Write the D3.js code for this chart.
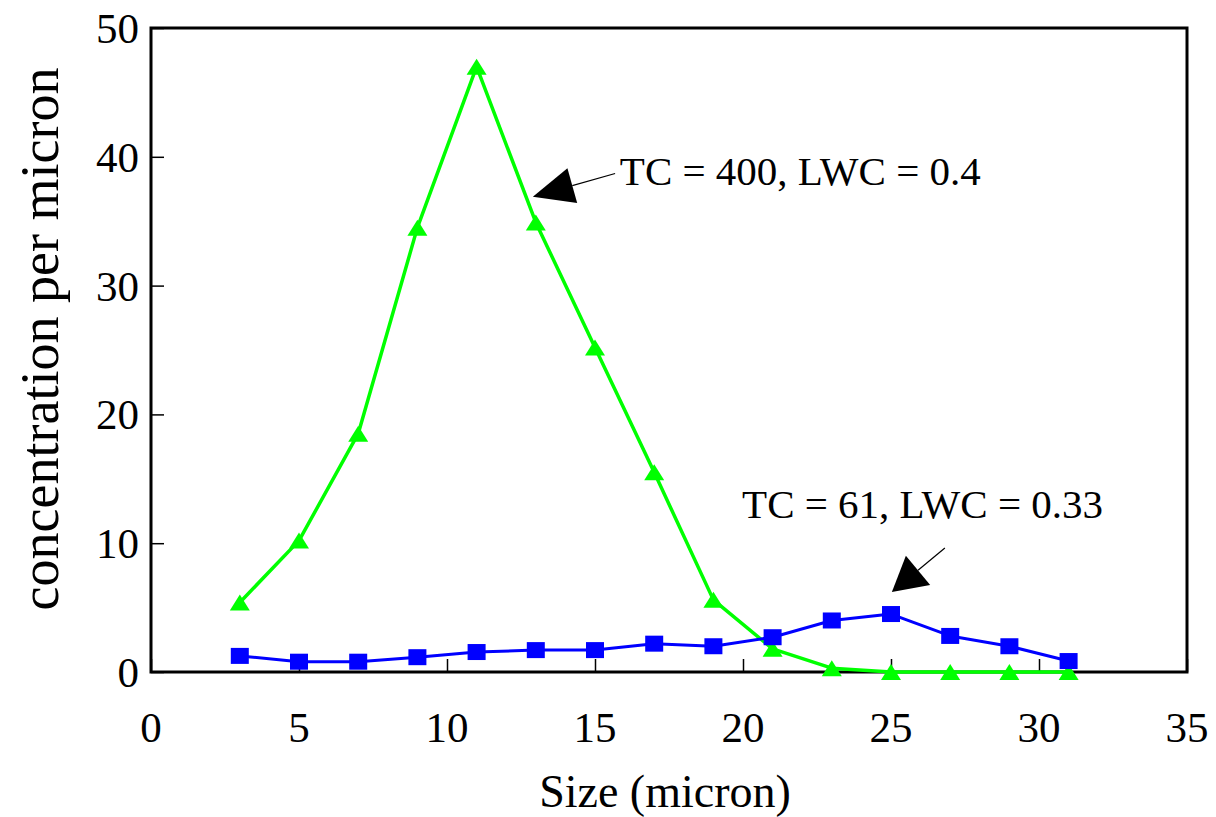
<!DOCTYPE html>
<html>
<head>
<meta charset="utf-8">
<script src="https://cdn.jsdelivr.net/npm/d3@7"></script>
<style>
  html, body { margin: 0; padding: 0; background: #fff; }
  svg { display: block; }
  text { font-family: "Liberation Serif", "Times New Roman", serif; fill: #000; }
</style>
</head>
<body>
<script>
// ---- data ----
const sizes = [3, 5, 7, 9, 11, 13, 15, 17, 19, 21, 23, 25, 27, 29, 31];
const seriesTC400 = [5.4, 10.2, 18.5, 34.5, 47.0, 34.9, 25.2, 15.5, 5.6, 1.8, 0.3, 0, 0, 0, 0];
const seriesTC61 = [1.25, 0.8, 0.8, 1.15, 1.55, 1.7, 1.7, 2.2, 2.0, 2.7, 4.0, 4.5, 2.8, 2.0, 0.85];
const xTicks = [0, 5, 10, 15, 20, 25, 30, 35];
const yTicks = [0, 10, 20, 30, 40, 50];
const xTitle = "Size (micron)";
const yTitle = "concentration per micron";
const annotationTexts = ["TC = 400, LWC = 0.4", "TC = 61, LWC = 0.33"];
// annotation anchors in data units: [textX, textY, arrowTailX, arrowTailY, arrowTipX, arrowTipY]
const annotationAnchors = [
  [15.84, 37.8, 15.68, 38.7, 12.9, 36.9],
  [19.97, 11.96, 26.82, 9.63, 25.03, 6.21]
];

// ---- layout ----
const W = 1216, H = 817;
const mLeft = 151, mRight = 1187, mTop = 28, mBottom = 672;

const svg = d3.select("body").append("svg").attr("width", W).attr("height", H);

const x = d3.scaleLinear().domain([0, 35]).range([mLeft, mRight]);
const y = d3.scaleLinear().domain([0, 50]).range([mBottom, mTop]);

// frame
svg.append("rect")
  .attr("x", mLeft).attr("y", mTop)
  .attr("width", mRight - mLeft).attr("height", mBottom - mTop)
  .attr("fill", "none").attr("stroke", "#000").attr("stroke-width", 3);

// axes (ticks pointing inward)
const xAxis = svg.append("g").attr("transform", `translate(0,${mBottom})`)
  .call(d3.axisTop(x).tickValues(xTicks).tickSize(13).tickFormat(""));
xAxis.select(".domain").remove();
xAxis.selectAll("line").attr("stroke", "#000").attr("stroke-width", 1.5);

const yAxis = svg.append("g").attr("transform", `translate(${mLeft},0)`)
  .call(d3.axisRight(y).tickValues(yTicks).tickSize(13).tickFormat(""));
yAxis.select(".domain").remove();
yAxis.selectAll("line").attr("stroke", "#000").attr("stroke-width", 1.5);

// tick labels
svg.append("g").selectAll("text").data(xTicks).join("text")
  .attr("x", d => x(d)).attr("y", 742)
  .attr("text-anchor", "middle").attr("font-size", 43)
  .text(d => d);
svg.append("g").selectAll("text").data(yTicks).join("text")
  .attr("x", 139).attr("y", d => y(d) + 15)
  .attr("text-anchor", "end").attr("font-size", 43)
  .text(d => d);

// axis titles
svg.append("text")
  .attr("x", (mLeft + mRight) / 2).attr("y", 807)
  .attr("text-anchor", "middle").attr("font-size", 46)
  .attr("dx", -4)
  .text(xTitle);
svg.append("text")
  .attr("transform", `translate(58,${(mTop + mBottom) / 2 - 11}) rotate(-90)`)
  .attr("text-anchor", "middle").attr("font-size", 54)
  .text(yTitle);

// lines
const line = d3.line().x((d, i) => x(sizes[i])).y(d => y(d));

svg.append("path").datum(seriesTC400)
  .attr("d", line).attr("fill", "none")
  .attr("stroke", "#00ff00").attr("stroke-width", 3.5).attr("stroke-linejoin", "round");
svg.append("g").selectAll("path").data(seriesTC400).join("path")
  .attr("transform", (d, i) => `translate(${x(sizes[i])},${y(d)})`)
  .attr("d", "M0,-8 L10,8 L-10,8 Z")
  .attr("fill", "#00ff00");

svg.append("path").datum(seriesTC61)
  .attr("d", line).attr("fill", "none")
  .attr("stroke", "#0000ff").attr("stroke-width", 3).attr("stroke-linejoin", "round");
svg.append("g").selectAll("rect").data(seriesTC61).join("rect")
  .attr("x", (d, i) => x(sizes[i]) - 9).attr("y", d => y(d) - 8)
  .attr("width", 18).attr("height", 16)
  .attr("fill", "#0000ff");

// annotations
const headLen = [41, 34], headHalf = [18, 19];
annotationAnchors.forEach((a, k) => {
  const [tx, ty, sx, sy, ex, ey] = a;
  const x1 = x(sx), y1 = y(sy), x2 = x(ex), y2 = y(ey);
  const dx = x1 - x2, dy = y1 - y2, len = Math.hypot(dx, dy);
  const ux = dx / len, uy = dy / len;
  const bx = x2 + ux * headLen[k], by = y2 + uy * headLen[k];
  svg.append("line")
    .attr("x1", x1).attr("y1", y1).attr("x2", bx).attr("y2", by)
    .attr("stroke", "#000").attr("stroke-width", 1.2);
  svg.append("path")
    .attr("d", `M${x2},${y2} L${bx - uy * headHalf[k]},${by + ux * headHalf[k]} L${bx + uy * headHalf[k]},${by - ux * headHalf[k]} Z`)
    .attr("fill", "#000");
  svg.append("text")
    .attr("x", x(tx)).attr("y", y(ty))
    .attr("font-size", 41)
    .text(annotationTexts[k]);
});
</script>
</body>
</html>
